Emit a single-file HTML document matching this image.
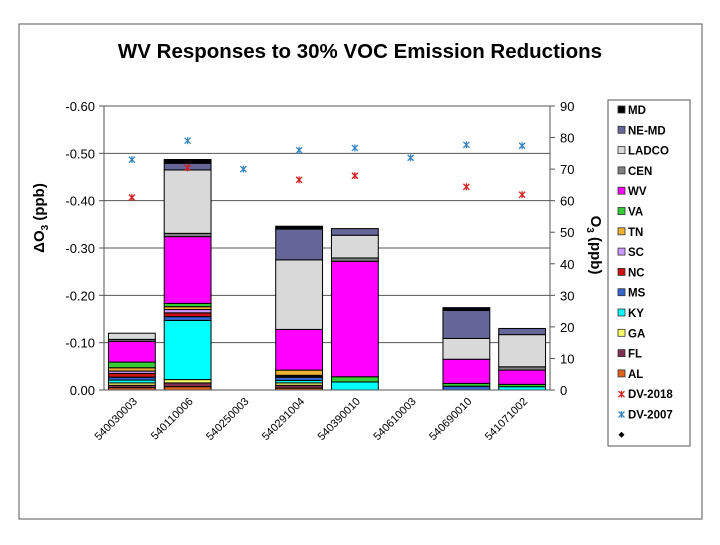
<!DOCTYPE html>
<html><head><meta charset="utf-8"><style>
body{margin:0;background:#fff;}
svg text{font-family:"Liberation Sans",Arial,sans-serif;}
</style></head><body>
<svg id="c" width="720" height="540" xmlns="http://www.w3.org/2000/svg">
<rect x="19" y="24" width="683" height="495" fill="#fff" stroke="#555" stroke-width="1"/>
<text x="360" y="58" text-anchor="middle" font-size="20.5" font-weight="bold">WV Responses to 30% VOC Emission Reductions</text>
<text transform="translate(44,218) rotate(-90)" text-anchor="middle" font-size="15" font-weight="bold">ΔO<tspan font-size="10" dy="4">3</tspan><tspan dy="-4"> (ppb)</tspan></text>
<text transform="translate(591,245) rotate(90)" text-anchor="middle" font-size="15" font-weight="bold">O<tspan font-size="10" dy="4">3</tspan><tspan dy="-4"> (ppb)</tspan></text>
<g id="grid"></g><g id="bars"></g><g id="axes"></g><g id="pts"></g><g id="legend"></g>
</svg>
<script>
const categories=["540030003","540110006","540250003","540291004","540390010","540610003","540690010","541071002"];
const seriesNames=["AL","FL","GA","KY","MS","NC","SC","TN","VA","WV","CEN","LADCO","NE-MD","MD"];
const seriesColors=["#e0601c","#7f3050","#ffff66","#00ffff","#3366cc","#cc1010","#cc99ff","#f0b030","#33cc33","#ff00ff","#808080","#d9d9d9","#666699","#000000"];
const AL=[-0.005,-0.007,0,-0.004,0,0,0,0];
const FL=[-0.005,-0.008,0,-0.006,0,0,0,0];
const GA=[-0.005,-0.007,0,-0.005,0,0,0,0];
const KY=[-0.006,-0.125,0,-0.005,-0.017,0,0,-0.007];
const MS=[-0.006,-0.008,0,-0.007,0,0,-0.008,0];
const NC=[-0.008,-0.008,0,-0.002,0,0,0,0];
const SC=[-0.005,-0.007,0,-0.002,0,0,0,0];
const TN=[-0.007,-0.006,0,-0.011,0,0,0,0];
const VA=[-0.012,-0.007,0,0,-0.011,0,-0.006,-0.005];
const WV=[-0.044,-0.141,0,-0.086,-0.244,0,-0.051,-0.030];
const CEN=[-0.004,-0.007,0,0,-0.007,0,0,-0.007];
const LADCO=[-0.013,-0.134,0,-0.147,-0.048,0,-0.044,-0.068];
const NEMD=[0,-0.014,0,-0.065,-0.014,0,-0.059,-0.013];
const MD=[0,-0.008,0,-0.006,0,0,-0.006,0];
const DV2018=[61,70.4,null,66.6,67.9,null,64.4,61.9];
const DV2007=[73,79,70,76,76.7,73.6,77.7,77.4];
const leftTicks=["0.00","-0.10","-0.20","-0.30","-0.40","-0.50","-0.60"];
const rightTicks=["0","10","20","30","40","50","60","70","80","90"];
const series=[AL,FL,GA,KY,MS,NC,SC,TN,VA,WV,CEN,LADCO,NEMD,MD];

const X0=104,X1=550,Y0=390,Y1=106;
const band=(X1-X0)/categories.length;
const xc=i=>X0+band*(i+0.5);
const yL=v=>Y0+(v/0.6)*(Y0-Y1);
const yR=v=>Y0-(v/90)*(Y0-Y1);
const NS="http://www.w3.org/2000/svg";
function mk(t,a,p){const e=document.createElementNS(NS,t);for(const k in a)e.setAttribute(k,a[k]);document.getElementById(p).appendChild(e);return e;}

leftTicks.forEach((t,i)=>{
  const v=parseFloat(t);const y=yL(v);
  if(i>0){const g=mk('line',{x1:X0,x2:X1,y1:y,y2:y,stroke:'#555','stroke-width':1},'grid');
  
  }
  mk('line',{x1:X0-5,x2:X0,y1:y,y2:y,stroke:'#555'},'axes');
  const tx=mk('text',{x:X0-9,y:y+5,'text-anchor':'end','font-size':13},'axes');tx.textContent=t;
  
  
});
rightTicks.forEach(t=>{
  const y=yR(parseFloat(t));
  mk('line',{x1:X1,x2:X1+5,y1:y,y2:y,stroke:'#555'},'axes');
  const tx=mk('text',{x:X1+10,y:y+5,'font-size':13},'axes');tx.textContent=t;
  
  
});
mk('line',{x1:X0,x2:X0,y1:Y1,y2:Y0,stroke:'#555'},'axes');
mk('line',{x1:X1,x2:X1,y1:Y1,y2:Y0,stroke:'#555'},'axes');
mk('line',{x1:X0,x2:X1,y1:Y0,y2:Y0,stroke:'#555'},'axes');

const bw=band*0.84;
categories.forEach((c,i)=>{
  let acc=0;
  series.forEach((s,k)=>{
    const v=s[i];if(!v)return;
    const ya=yL(acc),yb=yL(acc+v);acc+=v;
    const r=mk('rect',{x:xc(i)-bw/2,y:yb,width:bw,height:ya-yb,fill:seriesColors[k],stroke:'#000','stroke-width':1},'bars');
    
    
  });
  const tx=mk('text',{transform:`translate(${xc(i)+6},${Y0+12}) rotate(-45)`,'text-anchor':'end','font-size':11},'axes');
  tx.textContent=c;
  
  
});
function star(x,y,col,p,name){
  const g=mk('g',{},p);
  
  
  const a=[[-3,-3,3,3],[-3,3,3,-3],[0,-3.5,0,3.5]];
  a.forEach(d=>{const l=document.createElementNS(NS,'line');l.setAttribute('x1',x+d[0]);l.setAttribute('y1',y+d[1]);l.setAttribute('x2',x+d[2]);l.setAttribute('y2',y+d[3]);l.setAttribute('stroke',col);l.setAttribute('stroke-width','1.3');g.appendChild(l);});
}
DV2007.forEach((v,i)=>{if(v!=null)star(xc(i),yR(v),'#3a86c0','pts','dv-2007-point');});
DV2018.forEach((v,i)=>{if(v!=null)star(xc(i),yR(v),'#d02020','pts','dv-2018-point');});

const lb=mk('rect',{x:608,y:100,width:82,height:346,fill:'#fff',stroke:'#555'},'legend');


const legOrder=[13,12,11,10,9,8,7,6,5,4,3,2,1,0];
const LY=110,LS=20.3;
legOrder.forEach((k,j)=>{
  const y=LY+j*LS;
  mk('rect',{x:618,y:y-4,width:7,height:7,fill:seriesColors[k],stroke:'#333','stroke-width':0.8},'legend');
  const t=mk('text',{x:628,y:y+4,'font-size':11.5,'font-weight':'bold'},'legend');t.textContent=seriesNames[k];
  
  
});
[['DV-2018','#d02020'],['DV-2007','#3a86c0']].forEach((d,j)=>{
  const y=LY+(14+j)*LS;
  star(621.5,y,d[1],'legend','legend-marker');
  const t=mk('text',{x:628,y:y+4,'font-size':11.5,'font-weight':'bold'},'legend');t.textContent=d[0];
  
  
});
mk('path',{d:`M621.5 ${LY+16*LS-3} l3 3 l-3 3 l-3 -3z`,fill:'#000'},'legend');
</script>
</body></html>
